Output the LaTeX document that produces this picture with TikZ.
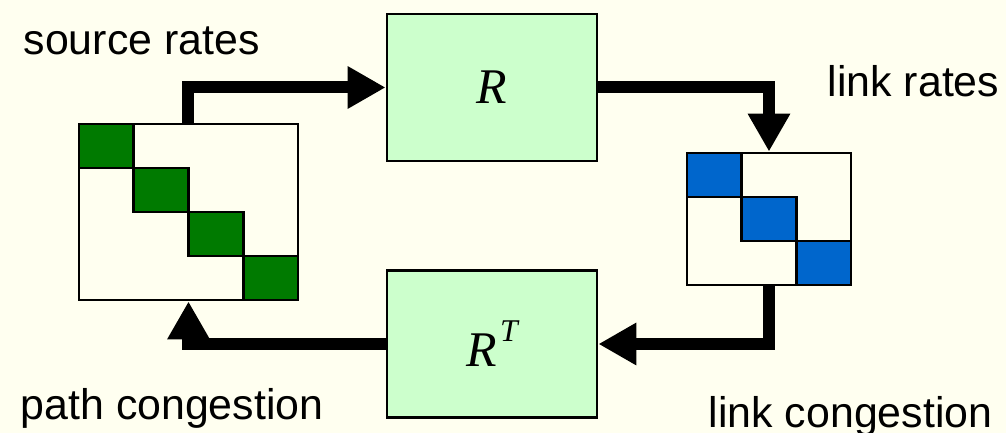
\documentclass[tikz,border=0pt]{standalone}
\usepackage{fontspec}
\setmainfont{Liberation Sans}
\newfontfamily\rfont{Liberation Serif}
\usetikzlibrary{arrows.meta}
\definecolor{bgcream}{RGB}{255,255,240}
\definecolor{boxgreen}{RGB}{204,255,204}
\definecolor{srcgreen}{RGB}{0,122,0}
\definecolor{lnkblue}{RGB}{0,102,204}
\tikzset{
  block/.style={draw, fill=boxgreen, line width=0.8pt, minimum width=2.10cm,
    minimum height=1.47cm, font=\rfont\fontsize{14.2}{17}\selectfont\itshape},
  matbox/.style={draw, fill=bgcream, line width=0.8pt, inner sep=0pt},
  cell/.style={draw, line width=0.8pt},
  flow/.style={line width=0.12cm, line join=miter, -{Triangle[length=0.38cm,width=0.40cm]}},
  lbl/.style={font=\fontsize{12.2}{14}\selectfont, inner sep=0pt, anchor=base west}
}
\begin{document}
\begin{tikzpicture}
\fill[bgcream] (0,0) rectangle (10.06,4.33);
\useasboundingbox (0,0) rectangle (10.06,4.33);

\node[block] (R) at (4.92,3.455) {R};
\node[block] (RT) at (4.92,0.89) {R\kern1pt\raisebox{7.1pt}{\fontsize{9}{9}\selectfont T}};

\node[matbox, minimum width=2.19cm, minimum height=1.76cm] (src) at (1.885,2.21) {};
\foreach \i in {0,...,3}
  \draw[cell, fill=srcgreen] (0.79+0.5475*\i,3.09-0.44*\i) rectangle ++(0.5475,-0.44);

\node[matbox, minimum width=1.64cm, minimum height=1.32cm] (lnk) at (7.69,2.14) {};
\foreach \i in {0,...,2}
  \draw[cell, fill=lnkblue] (6.87+0.5467*\i,2.80-0.44*\i) rectangle ++(0.5467,-0.44);

\draw[flow] (src.north) |- (R.west);
\draw[flow] (R.east) -| (lnk.north);
\draw[flow] (lnk.south) |- (RT.east);
\draw[flow] (RT.west) -| (src.south);

\node[lbl] (srcrates) at (0.23,3.78) {source rates};
\node[lbl] (lnkrates) at (8.27,3.36) {link rates};
\node[lbl] (pathcong) at (0.20,0.13) {path congestion};
\node[lbl] (lnkcong) at (7.08,0.05) {link congestion};
\end{tikzpicture}
\end{document}
